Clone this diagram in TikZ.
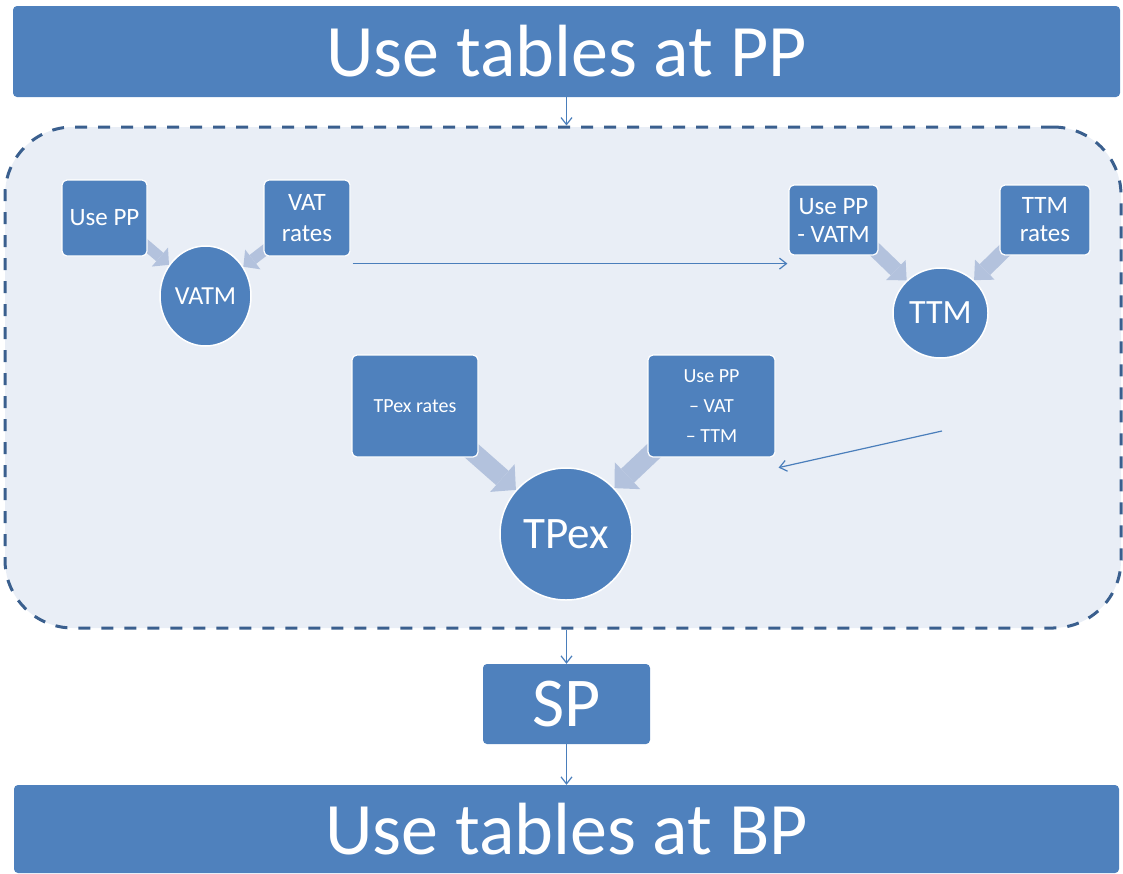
\documentclass[tikz,border=0pt]{standalone}
\usepackage{fontspec}
\setmainfont{Carlito}
\usetikzlibrary{arrows.meta,calc,shapes.geometric}
\definecolor{boxblue}{HTML}{4F81BD}
\definecolor{lineblue}{HTML}{4A7EBB}
\definecolor{dashblue}{HTML}{3A5F8E}
\definecolor{contfill}{HTML}{E9EEF6}
\definecolor{barrowc}{HTML}{B3C2DD}
\pgfdeclarelayer{bglayer}
\pgfdeclarelayer{midlayer}
\pgfsetlayers{bglayer,midlayer,main}
\tikzset{
  bluebox/.style={draw=white, line width=1.2pt, fill=boxblue, rounded corners=5pt, text=white, inner sep=0pt, align=center},
  bigbar/.style={fill=boxblue, rounded corners=4pt, text=white, inner sep=0pt, font=\fontsize{74}{80}\selectfont},
  bluecirc/.style={ellipse, draw=white, line width=1.5pt, fill=boxblue, text=white, inner sep=0pt},
  conn/.style={draw=lineblue, line width=1.2pt, -{Straight Barb[length=7pt,width=11pt]}},
  blockarr/.style n args={3}{draw=barrowc, line width=#1, -{Triangle[width=#2,length=#3,line width=0pt,fill=barrowc]}},
}
\begin{document}
\begin{tikzpicture}[x=1pt,y=-1pt]
\useasboundingbox (0,0) rectangle (1123,873);
\begin{pgfonlayer}{bglayer}
\node[draw=dashblue, fill=contfill, line width=3pt, dash pattern=on 12pt off 11pt, rounded corners=68pt, minimum width=1116pt, minimum height=501pt, inner sep=0pt] (cont) at (563,377.5) {};
\end{pgfonlayer}
\node[bigbar, minimum width=1107pt, minimum height=91pt] (top) at (566.5,51.5) {Use tables at PP};
\node[bigbar, minimum width=1105pt, minimum height=88pt] (bot) at (566.5,829) {Use tables at BP};
\node[bigbar, font=\fontsize{70}{80}\selectfont, minimum width=167pt, minimum height=80pt] (sp) at (566.5,704) {SP};

\node[bluebox, font=\fontsize{25}{30}\selectfont, minimum width=85pt, minimum height=76pt] (usepp) at (104.5,218) {Use PP};
\node[bluebox, font=\fontsize{25}{31}\selectfont, minimum width=86pt, minimum height=76pt] (vatrates) at (307,218) {VAT\\rates};
\node[bluecirc, font=\fontsize{26}{30}\selectfont, minimum width=91pt, minimum height=100pt] (vatm) at (205.5,296) {VATM};

\node[bluebox, font=\fontsize{25}{28}\selectfont, minimum width=89pt, minimum height=70pt] (ppvatm) at (833.5,220) {Use PP\\- VATM};
\node[bluebox, font=\fontsize{25}{28}\selectfont, minimum width=90pt, minimum height=70pt] (ttmrates) at (1045,220) {TTM\\rates};
\node[bluecirc, font=\fontsize{34}{40}\selectfont, minimum width=95pt, minimum height=90pt] (ttm) at (940.5,313) {TTM};

\node[bluebox, font=\fontsize{20}{24}\selectfont, minimum width=126pt, minimum height=102pt] (tpexrates) at (415,406) {TPex rates};
\node[bluebox, font=\fontsize{20}{30}\selectfont, minimum width=127pt, minimum height=102pt] (ppvt) at (711.5,406) {Use PP\\– VAT\\– TTM};
\node[bluecirc, font=\fontsize{45}{50}\selectfont, minimum width=132pt, minimum height=132pt] (tpex) at (566,534) {TPex};

\begin{pgfonlayer}{midlayer}
\draw[blockarr={11pt}{25pt}{12pt}] ($(usepp.south east)+(-7,-16)$) -- (vatm);
\draw[blockarr={11pt}{25pt}{12pt}] ($(vatrates.south west)+(6,-10)$) -- (vatm);
\draw[blockarr={15pt}{28pt}{15pt}] ($(ppvatm.south east)+(-8,-10)$) -- (ttm);
\draw[blockarr={15pt}{28pt}{15pt}] ($(ttmrates.south west)+(10,-10)$) -- (ttm);
\draw[blockarr={19pt}{37pt}{18pt}] ($(tpexrates.south east)+(-13,-12)$) -- (tpex);
\draw[blockarr={19pt}{37pt}{18pt}] ($(ppvt.south west)+(12,-12)$) -- (tpex);
\end{pgfonlayer}

\coordinate (ttmout) at (942,431);
\draw[conn] (top.south) -- (top.south |- cont.north);
\draw[conn] ($(vatrates.south east)+(2,7)$) -- ($(ppvatm.south west)+(-1,8)$);
\draw[conn] (ttmout) -- ($(ppvt.south east)+(3,10)$);
\draw[conn] (cont.south -| sp.north) -- (sp.north);
\draw[conn] (sp.south) -- (bot.north);
\end{tikzpicture}
\end{document}
